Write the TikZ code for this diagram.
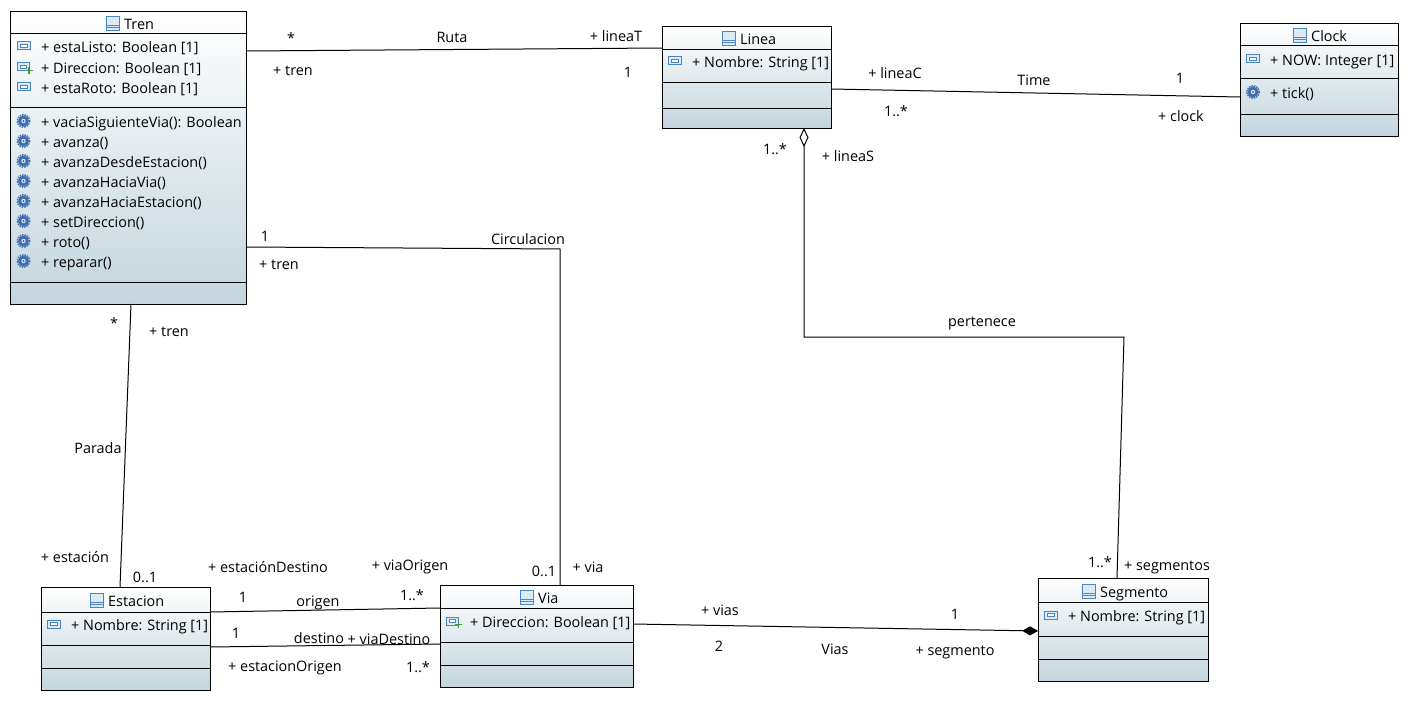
\documentclass[tikz,border=0pt]{standalone}
\usepackage{fontspec}
\setmainfont{Open Sans}
\usetikzlibrary{arrows.meta}
\definecolor{icoblue}{HTML}{4A86C5}
\definecolor{icolight}{HTML}{DCEAF6}
\definecolor{gearblue}{HTML}{3F6FB0}
\definecolor{boxend}{HTML}{C3D5DD}
\definecolor{plusgreen}{HTML}{3C9A3C}
\tikzset{
  classbox/.style={draw=black,rectangle,inner sep=0pt,outer sep=0pt,top color=white,bottom color=boxend,shading angle=0},
  lbl/.style={inner sep=0pt,text height=10pt,text depth=3pt,yshift=-2pt},
  member/.style={lbl,anchor=west},
  assoc/.style={draw=black,line width=1pt},
  sepline/.style={draw=black,line width=1pt},
  classico/.pic={
    \draw[icoblue,fill=icolight,line width=0.9pt] (-6.5,-7) rectangle (6.5,7);
    \draw[icoblue,line width=0.9pt] (-6.5,2) -- (6.5,2) (-6.5,4.5) -- (6.5,4.5);
  },
  attrico/.pic={
    \draw[icoblue,fill=icolight,line width=1pt] (-6.5,-4) rectangle (6.5,4);
    \draw[icoblue,fill=white,line width=0.7pt] (-3.5,-1.5) rectangle (3.5,1.5);
  },
  addico/.pic={
    \draw[icoblue,fill=icolight,line width=1pt] (-6.5,-4) rectangle (5.5,4);
    \draw[icoblue,fill=white,line width=0.7pt] (-3.5,-1.5) rectangle (2.5,1.5);
    \draw[plusgreen,line width=1.6pt] (2,3.5) -- (9,3.5) (5.5,0) -- (5.5,7);
  },
  opico/.pic={
    \fill[gearblue] (0,0) circle (5.5);
    \draw[gearblue,line width=1.5pt,densely dotted] (0,0) circle (6.2);
    \fill[icolight] (0,0) circle (2.2);
    \fill[gearblue] (0,0) circle (1.1);
  }
}
\begin{document}
\begin{tikzpicture}[x=1pt,y=-1pt,font=\fontsize{14.4}{16}\selectfont]
  \useasboundingbox (0,0) rectangle (1409,701);
  % classes
  \node[classbox,minimum width=236pt,minimum height=293pt] (tren) at (128,157.5) {};
  \node[classbox,minimum width=169pt,minimum height=102pt] (linea) at (746.5,77) {};
  \node[classbox,minimum width=158pt,minimum height=113pt] (clock) at (1319,79.5) {};
  \node[classbox,minimum width=169pt,minimum height=103pt] (estacion) at (125.5,638.5) {};
  \node[classbox,minimum width=193pt,minimum height=102pt] (via) at (536.5,636) {};
  \node[classbox,minimum width=170pt,minimum height=103pt] (segmento) at (1123,629.5) {};
  % compartments
  \foreach \y in {34,107,282}
    \draw[sepline] (tren.west |- 0,\y) -- (tren.east |- 0,\y);
  \foreach \y in {50,83,108}
    \draw[sepline] (linea.west |- 0,\y) -- (linea.east |- 0,\y);
  \foreach \y in {46,79,114}
    \draw[sepline] (clock.west |- 0,\y) -- (clock.east |- 0,\y);
  \foreach \y in {612,645,668}
    \draw[sepline] (estacion.west |- 0,\y) -- (estacion.east |- 0,\y);
  \foreach \y in {608,642,665}
    \draw[sepline] (via.west |- 0,\y) -- (via.east |- 0,\y);
  \foreach \y in {602,636,659}
    \draw[sepline] (segmento.west |- 0,\y) -- (segmento.east |- 0,\y);
  % titles
  \pic at (113,23) {classico};
  \node[member] (trenT) at (124,24) {Tren};
  \pic at (729,38) {classico};
  \node[member] (lineaT) at (740,39) {Linea};
  \pic at (1300,35) {classico};
  \node[member] (clockT) at (1311,36) {Clock};
  \pic at (97,600) {classico};
  \node[member] (estacionT) at (108,601) {Estacion};
  \pic at (527,597) {classico};
  \node[member] (viaT) at (538,598) {Via};
  \pic at (1089,591) {classico};
  \node[member] (segmentoT) at (1100,592) {Segmento};
  % members
  \pic at (23.5,46) {attrico};
  \node[member] (m1) at (41,47) {+ estaListo: Boolean [1]};
  \pic at (23.5,67) {addico};
  \node[member] (m2) at (41,68) {+ Direccion: Boolean [1]};
  \pic at (23.5,87) {attrico};
  \node[member] (m3) at (41,88) {+ estaRoto: Boolean [1]};
  \foreach \y/\t in {121/{+ vaciaSiguienteVia(): Boolean},141/{+ avanza()},161/{+ avanzaDesdeEstacion()},
      181/{+ avanzaHaciaVia()},201/{+ avanzaHaciaEstacion()},221/{+ setDireccion()},241/{+ roto()},261/{+ reparar()}}{
    \pic at (23.5,\y) {opico};
    \node[member] at (41,\y+1) {\t};
  }
  \pic at (675,61) {attrico};
  \node[member] (m4) at (692,62) {+ Nombre: String [1]};
  \pic at (1253,59) {attrico};
  \node[member] (m5) at (1270,60) {+ NOW: Integer [1]};
  \pic at (1253,92) {opico};
  \node[member] (m6) at (1270,93) {+ tick()};
  \pic at (54,624) {attrico};
  \node[member] (m7) at (71,625) {+ Nombre: String [1]};
  \pic at (453,621) {addico};
  \node[member] (m8) at (470,622) {+ Direccion: Boolean [1]};
  \pic at (1051,615) {attrico};
  \node[member] (m9) at (1068,616) {+ Nombre: String [1]};
  % connectors
  \draw[assoc] ([yshift=-40pt]tren.north east) -- ([yshift=-22pt]linea.north west);
  \draw[assoc] ([yshift=-63pt]linea.north east) -- ([yshift=-74pt]clock.north west);
  \draw[assoc,{Diamond[open,length=19pt,width=9pt]}-] ([xshift=57.5pt]linea.south) -- (804,337) -- (1124,337) -- ([xshift=-6pt]segmento.north);
  \draw[assoc] ([yshift=-236pt]tren.north east) -- (560,249) -- ([xshift=23.5pt]via.north);
  \draw[assoc] ([xshift=3pt]tren.south) -- ([xshift=-5.5pt]estacion.north);
  \draw[assoc] ([yshift=-25pt]estacion.north east) -- ([yshift=-23pt]via.north west);
  \draw[assoc] ([yshift=-60pt]estacion.north east) -- ([yshift=-59pt]via.north west);
  \draw[assoc,-{Diamond[length=16pt,width=9pt]}] ([yshift=-39pt]via.north east) -- ([yshift=-53pt]segmento.north west);
  % labels
  \node[lbl] (l1) at (291,38) {*};
  \node[lbl] (l2) at (452,37) {Ruta};
  \node[lbl] (l3) at (616,36) {+ lineaT};
  \node[lbl] (l4) at (293,70) {+ tren};
  \node[lbl] (l5) at (628,72) {1};
  \node[lbl] (l6) at (895,73) {+ lineaC};
  \node[lbl] (l7) at (1034,80) {Time};
  \node[lbl] (l8) at (1180,78) {1};
  \node[lbl] (l9) at (896,111) {1..*};
  \node[lbl] (l10) at (1181,116) {+ clock};
  \node[lbl] (l11) at (775,149) {1..*};
  \node[lbl] (l12) at (848,156) {+ lineaS};
  \node[lbl] (l13) at (265,236) {1};
  \node[lbl] (l14) at (528,239) {Circulacion};
  \node[lbl] (l15) at (279,264) {+ tren};
  \node[lbl] (l16) at (114,323) {*};
  \node[lbl] (l17) at (169,331) {+ tren};
  \node[lbl] (l18) at (982,321) {pertenece};
  \node[lbl] (l19) at (98,448) {Parada};
  \node[lbl] (l20) at (75,557) {+ estación};
  \node[lbl] (l21) at (145,577) {0..1};
  \node[lbl] (l22) at (268,567) {+ estaciónDestino};
  \node[lbl] (l23) at (410,565) {+ viaOrigen};
  \node[lbl] (l24) at (544,571) {0..1};
  \node[lbl] (l25) at (588,567) {+ via};
  \node[lbl] (l26) at (1100,562) {1..*};
  \node[lbl] (l27) at (1167,565) {+ segmentos};
  \node[lbl] (l28) at (243,597) {1};
  \node[lbl] (l29) at (318,601) {origen};
  \node[lbl] (l30) at (412,595) {1..*};
  \node[lbl] (l31) at (720,610) {+ vias};
  \node[lbl] (l32) at (955,614) {1};
  \node[lbl] (l33) at (236,633) {1};
  \node[lbl] (l34) at (319,638) {destino};
  \node[lbl] (l35) at (389,639) {+ viaDestino};
  \node[lbl] (l36) at (719,646) {2};
  \node[lbl] (l37) at (835,649) {Vias};
  \node[lbl] (l38) at (955,650) {+ segmento};
  \node[lbl] (l39) at (285,666) {+ estacionOrigen};
  \node[lbl] (l40) at (418,667) {1..*};
\end{tikzpicture}
\end{document}
